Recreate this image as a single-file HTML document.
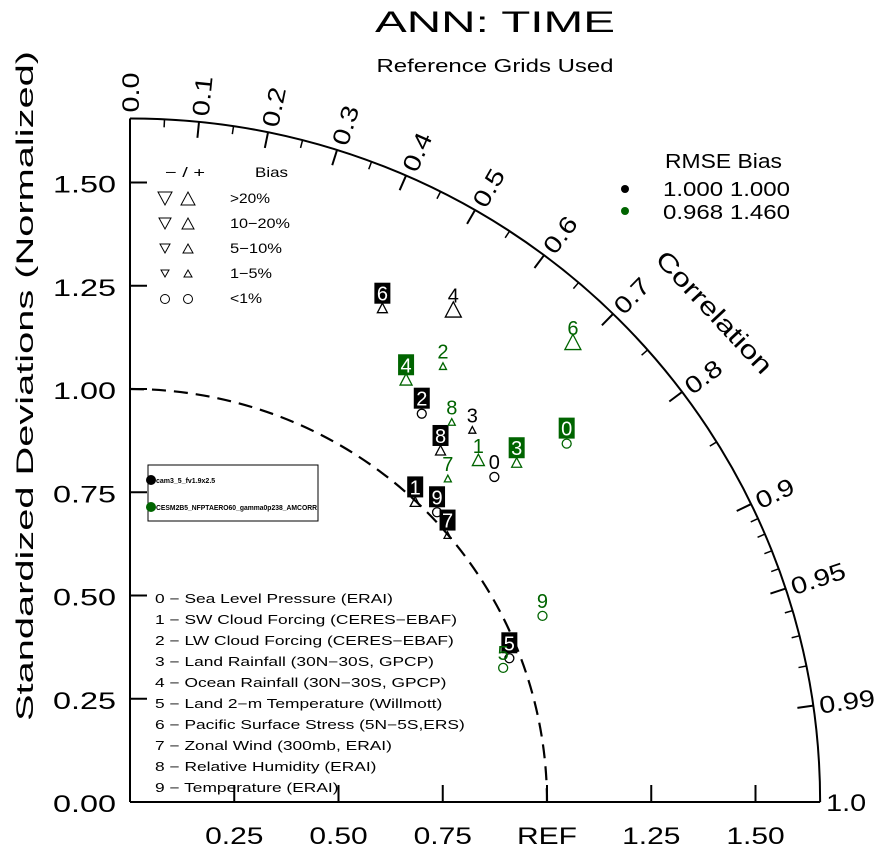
<!DOCTYPE html>
<html><head><meta charset="utf-8"><style>
body{margin:0;background:#fff;}
svg{display:block;font-family:"Liberation Sans",sans-serif;}
</style></head><body>
<svg id="chart" width="887" height="854" viewBox="0 0 887 854" xmlns="http://www.w3.org/2000/svg">
<text x="495" y="32" font-size="30" text-anchor="middle" textLength="240" lengthAdjust="spacingAndGlyphs" fill="#000">ANN: TIME</text>
<text x="495" y="72" font-size="18" text-anchor="middle" textLength="237" lengthAdjust="spacingAndGlyphs" fill="#000">Reference Grids Used</text>
<text transform="translate(33,386) rotate(-90)" font-size="24" text-anchor="middle" textLength="670" lengthAdjust="spacingAndGlyphs">Standardized Deviations (Normalized)</text>
<text transform="translate(708,318) rotate(47)" font-size="25" text-anchor="middle" textLength="158" lengthAdjust="spacingAndGlyphs">Correlation</text>
<g id="axes"></g>
<g id="marks"></g>
<g font-size="14">
<text x="165" y="177" textLength="40" lengthAdjust="spacingAndGlyphs">−  /  +</text><text x="255" y="177" textLength="33" lengthAdjust="spacingAndGlyphs">Bias</text>
<text x="230" y="203" textLength="40" lengthAdjust="spacingAndGlyphs">&gt;20%</text><text x="230" y="228" textLength="60" lengthAdjust="spacingAndGlyphs">10−20%</text><text x="230" y="253" textLength="52" lengthAdjust="spacingAndGlyphs">5−10%</text><text x="230" y="278" textLength="42" lengthAdjust="spacingAndGlyphs">1−5%</text><text x="230" y="303" textLength="32" lengthAdjust="spacingAndGlyphs">&lt;1%</text>
<polygon points="158,192 172,192 165,205" fill="none" stroke="#000"/><polygon points="181,205 195,205 188,192" fill="none" stroke="#000"/>
<polygon points="159,218 171,218 165,229" fill="none" stroke="#000"/><polygon points="182,229 194,229 188,218" fill="none" stroke="#000"/>
<polygon points="160,244 170,244 165,253" fill="none" stroke="#000"/><polygon points="183,253 193,253 188,244" fill="none" stroke="#000"/>
<polygon points="161,270 169,270 165,277" fill="none" stroke="#000"/><polygon points="184,277 192,277 188,270" fill="none" stroke="#000"/>
<circle cx="165" cy="299" r="4.5" fill="none" stroke="#000"/><circle cx="188" cy="299" r="4.5" fill="none" stroke="#000"/>
</g>
<g font-size="20">
<text x="665" y="168" textLength="117" lengthAdjust="spacingAndGlyphs">RMSE  Bias</text>
<circle cx="625" cy="189" r="4" fill="#000"/><text x="663" y="196" textLength="127" lengthAdjust="spacingAndGlyphs">1.000 1.000</text>
<circle cx="625" cy="211" r="4" fill="#006400"/><text x="663" y="219" textLength="127" lengthAdjust="spacingAndGlyphs">0.968 1.460</text>
</g>
<g>
<rect x="148" y="465" width="170" height="56" fill="#fff" stroke="#000"/>
<circle cx="151" cy="480" r="5" fill="#000"/><text x="156" y="483" font-size="7" font-weight="bold">cam3_5_fv1.9x2.5</text>
<circle cx="151" cy="507" r="5" fill="#006400"/><text x="156" y="510" font-size="7" font-weight="bold" textLength="161" lengthAdjust="spacingAndGlyphs">CESM2B5_NFPTAERO60_gamma0p238_AMCORR</text>
</g>
<g font-size="12.5" transform="translate(155,0) scale(1.39,1)">
<text x="0" y="603">0 − Sea Level Pressure (ERAI)</text>
<text x="0" y="624">1 − SW Cloud Forcing (CERES−EBAF)</text>
<text x="0" y="645">2 − LW Cloud Forcing (CERES−EBAF)</text>
<text x="0" y="666">3 − Land Rainfall (30N−30S, GPCP)</text>
<text x="0" y="687">4 − Ocean Rainfall (30N−30S, GPCP)</text>
<text x="0" y="708">5 − Land 2−m Temperature (Willmott)</text>
<text x="0" y="729">6 − Pacific Surface Stress (5N−5S,ERS)</text>
<text x="0" y="750">7 − Zonal Wind (300mb, ERAI)</text>
<text x="0" y="771">8 − Relative Humidity (ERAI)</text>
<text x="0" y="792">9 − Temperature (ERAI)</text>
</g>
<script>
const caseColors = ["#000000", "#006400"];
const labels = ["0","1","2","3","4","5","6","7","8","9"];
// normalized standard deviation per variable
const sigmaCase1 = [1.176,0.997,1.172,1.218,1.420,0.974,1.339,0.998,1.130,1.017];
const corrCase1  = [0.743,0.686,0.597,0.674,0.546,0.934,0.452,0.763,0.659,0.724];
const sigmaCase2 = [1.360,1.175,1.294,1.238,1.217,0.952,1.537,1.092,1.200,1.087];
const corrCase2  = [0.770,0.711,0.580,0.749,0.544,0.940,0.691,0.698,0.643,0.910];
// bias class: 0 = <1%, 1 = 1-5%, 2 = 5-10%, 3 = 10-20%, 4 = >20%
const biasCase1 = [0,2,0,1,4,0,2,1,2,0];
const biasCase2 = [0,3,1,2,3,0,4,1,1,0];
const boxedCase1 = [0,1,1,0,0,1,1,1,1,1];
const boxedCase2 = [1,0,0,1,1,0,0,0,0,0];
const yTicks = [0,0.25,0.5,0.75,1.0,1.25,1.5];
const yTickLabels = ["0.00","0.25","0.50","0.75","1.00","1.25","1.50"];
const xTicks = [0.25,0.5,0.75,1.0,1.25,1.5];
const xTickLabels = ["0.25","0.50","0.75","REF","1.25","1.50"];
const corrTicks = [0,0.1,0.2,0.3,0.4,0.5,0.6,0.7,0.8,0.9,0.95,0.99,1.0];
const corrTickLabels = ["0.0","0.1","0.2","0.3","0.4","0.5","0.6","0.7","0.8","0.9","0.95","0.99","1.0"];
const corrMinor = [0.05,0.15,0.25,0.35,0.45,0.55,0.65,0.75,0.85,0.91,0.92,0.93,0.94,0.96,0.97,0.98];

const OX=130, OY=802, SX=417, SY=413, RMAX=1.655;
const NS="http://www.w3.org/2000/svg";
const px = (sig, r) => OX + SX*sig*r;
const py = (sig, r) => OY - SY*sig*Math.sqrt(Math.max(0,1-r*r));
function mk(tag, attrs, parent){const e=document.createElementNS(NS,tag);for(const k in attrs)e.setAttribute(k,attrs[k]);parent.appendChild(e);return e;}
const ax=document.getElementById('axes');
let l=mk('line',{x1:OX,y1:OY,x2:OX,y2:OY-SY*RMAX,stroke:'#000','stroke-width':2},ax);


l=mk('line',{x1:OX,y1:OY,x2:OX+SX*RMAX,y2:OY,stroke:'#000','stroke-width':2},ax);


let arc=mk('path',{d:`M${OX},${OY-SY*RMAX} A${SX*RMAX},${SY*RMAX} 0 0 1 ${OX+SX*RMAX},${OY}`,fill:'none',stroke:'#000','stroke-width':2},ax);


let ref=mk('path',{d:`M${OX},${OY-SY} A${SX},${SY} 0 0 1 ${OX+SX},${OY}`,fill:'none',stroke:'#000','stroke-width':2.2,'stroke-dasharray':'14,8'},ax);


yTicks.forEach((v,i)=>{const y=OY-SY*v;
 if(v>0){const t=mk('line',{x1:OX,y1:y,x2:OX+17,y2:y,stroke:'#000','stroke-width':2},ax);
 
 }
 const tx=mk('text',{transform:`translate(${OX-14},${y+10}) scale(1.35,1)`,'font-size':24,'text-anchor':'end'},ax);tx.textContent=yTickLabels[i];
 
 });
xTicks.forEach((v,i)=>{const x=OX+SX*v;
 const t=mk('line',{x1:x,y1:OY,x2:x,y2:OY-17,stroke:'#000','stroke-width':2},ax);
 
 
 const tx=mk('text',{transform:`translate(${x},${OY+42}) scale(1.25,1)`,'font-size':24,'text-anchor':'middle'},ax);tx.textContent=xTickLabels[i];
 
 });
corrTicks.forEach((c,i)=>{const th=Math.acos(c);const cs=Math.cos(th),sn=Math.sin(th);
 if(c>0&&c<1){const t=mk('line',{x1:OX+SX*RMAX*cs,y1:OY-SY*RMAX*sn,x2:OX+(SX*RMAX-16)*cs,y2:OY-(SY*RMAX-16)*sn,stroke:'#000','stroke-width':2},ax);
 
 }
 const x=OX+(SX*RMAX+6)*cs,y=OY-(SY*RMAX+6)*sn;const deg=-th*180/Math.PI;
 const tx=mk('text',{transform:`translate(${x},${y}) rotate(${deg}) scale(1.2,1)`,'font-size':24,'text-anchor':'start',dy:9},ax);tx.textContent=corrTickLabels[i];
 
 });
corrMinor.forEach(c=>{const th=Math.acos(c);const cs=Math.cos(th),sn=Math.sin(th);
 const t=mk('line',{x1:OX+SX*RMAX*cs,y1:OY-SY*RMAX*sn,x2:OX+(SX*RMAX-8)*cs,y2:OY-(SY*RMAX-8)*sn,stroke:'#000','stroke-width':1.5},ax);
 
 });

const mg=document.getElementById('marks');
const triSize=[0,3.5,5,6,8];
function drawCase(sig,cor,bias,boxed,color,ci){
 sig.forEach((s,i)=>{const x=px(s,cor[i]),y=py(s,cor[i]);
  const g=mk('g',{},mg);
  
  
  if(bias[i]===0){mk('circle',{cx:x,cy:y,r:4.5,fill:'none',stroke:color,'stroke-width':1.3},g);}
  else{const h=triSize[bias[i]];mk('polygon',{points:`${x-h},${y+h*0.8} ${x+h},${y+h*0.8} ${x},${y-h*1.1}`,fill:'none',stroke:color,'stroke-width':1.3},g);}
  const ly=y-16;
  if(boxed[i]){mk('rect',{x:x-8,y:ly-10,width:16,height:21,fill:color},g);
   const t=mk('text',{x:x,y:ly+8,'font-size':20,'text-anchor':'middle',fill:'#fff'},g);t.textContent=labels[i];}
  else{const t=mk('text',{x:x,y:ly+8,'font-size':20,'text-anchor':'middle',fill:color},g);t.textContent=labels[i];}
 });
}
drawCase(sigmaCase1,corrCase1,biasCase1,boxedCase1,caseColors[0],0);
drawCase(sigmaCase2,corrCase2,biasCase2,boxedCase2,caseColors[1],1);
</script>
</svg>
</body></html>
